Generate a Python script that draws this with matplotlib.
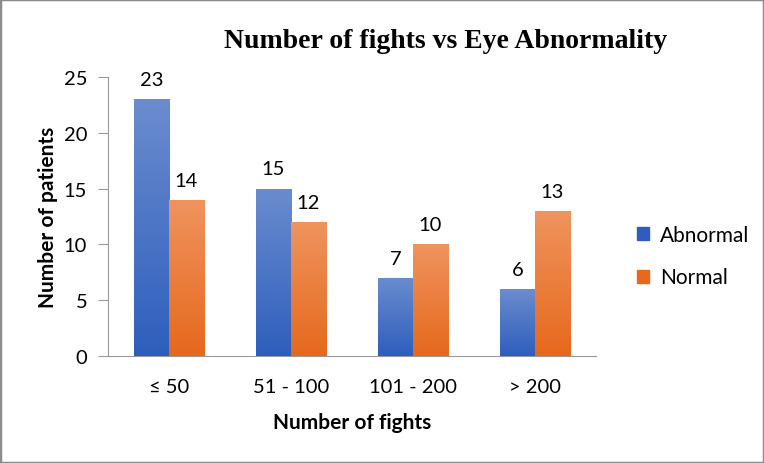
import numpy as np
import matplotlib.pyplot as plt
from matplotlib.patches import Rectangle

categories = ["\u2264 50", "51 - 100", "101 - 200", "> 200"]
abnormal = [23, 15, 7, 6]
normal = [14, 12, 10, 13]
series_names = ["Abnormal", "Normal"]

plt.rcParams['font.family'] = ['Lato', 'DejaVu Sans']

fig = plt.figure(figsize=(7.64, 4.64), dpi=100)
ax = fig.add_axes([108/764, 1-357/464, (596-108)/764, (357-78)/464])

x = np.arange(len(categories))
w = 0.287

# gradient colours (top, bottom)
blue_top, blue_bot = np.array([0.42, 0.55, 0.81]), np.array([0.18, 0.37, 0.74])
orng_top, orng_bot = np.array([0.94, 0.58, 0.37]), np.array([0.90, 0.41, 0.11])

def grad_bars(xs, vals, top, bot, label):
    bars = ax.bar(xs, vals, w, color=bot, label=label, zorder=2)
    grad = np.linspace(0, 1, 256)[:, None]
    img = top[None, None, :] * (1 - grad[..., None]) + bot[None, None, :] * grad[..., None]
    for b in bars:
        x0, y0 = b.get_x(), b.get_y()
        im = ax.imshow(img, extent=[x0, x0 + b.get_width(), y0, y0 + b.get_height()],
                       aspect='auto', origin='upper', zorder=3)
        im.set_clip_path(b)
    return bars

b1 = grad_bars(x - w/2, abnormal, blue_top, blue_bot, series_names[0])
b2 = grad_bars(x + w/2, normal, orng_top, orng_bot, series_names[1])

for bars in (b1, b2):
    for b in bars:
        ax.annotate(f"{int(b.get_height())}", (b.get_x() + b.get_width()/2, b.get_height()),
                    xytext=(0, 8), textcoords='offset points', ha='center', va='bottom',
                    fontsize=14.5)

ax.set_xlim(-0.5, 3.5)
ax.set_ylim(0, 25)
ax.set_yticks([0, 5, 10, 15, 20, 25])
ax.set_xticks(x)
ax.set_xticklabels(categories)
ax.tick_params(axis='x', length=0, labelsize=14.5, pad=16)
ax.tick_params(axis='y', length=7, color='#999999', labelsize=14.5, pad=8)
for s in ['top', 'right']:
    ax.spines[s].set_visible(False)
for s in ['left', 'bottom']:
    ax.spines[s].set_color('#999999')
ax.set_xlabel("Number of fights", fontsize=15, fontweight='bold', labelpad=12)
ax.set_ylabel("Number of patients", fontsize=15, fontweight='bold', labelpad=4)

handles = [Rectangle((0, 0), 1, 1, color=blue_bot), Rectangle((0, 0), 1, 1, color=orng_bot)]
fig.legend(handles, series_names, loc='center left', bbox_to_anchor=(618/764, 1-257/464),
           frameon=False, fontsize=15, handlelength=0.6, handleheight=0.6,
           labelspacing=1.1, handletextpad=0.5)

fig.text(446/764, 1-41/464, "Number of fights vs Eye Abnormality", ha='center', va='center',
         fontsize=20, fontweight='bold', family='Liberation Serif')

fig.patches.append(Rectangle((0, 0), 1, 1, transform=fig.transFigure, fill=False,
                             edgecolor='#8c8c8c', linewidth=2.5))

fig.savefig("out.png", dpi=100)
